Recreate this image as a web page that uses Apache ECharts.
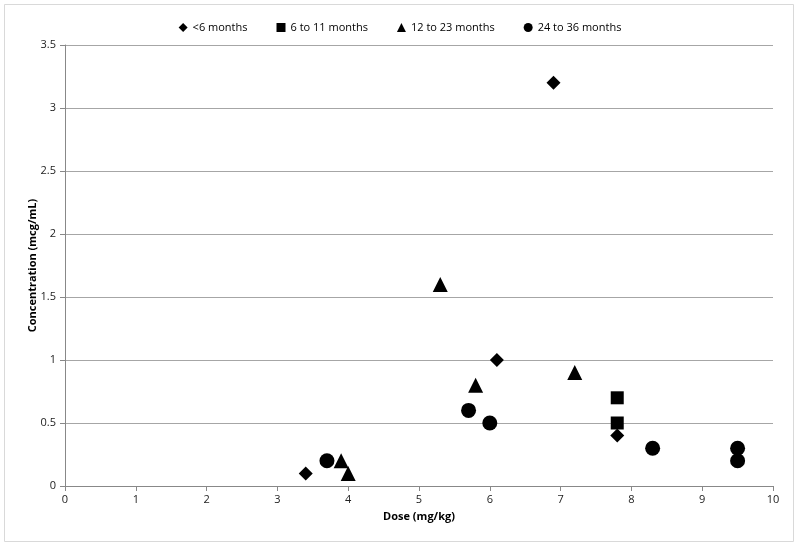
<!DOCTYPE html>
<html><head><meta charset="utf-8">
<script src="https://cdn.jsdelivr.net/npm/echarts@6/dist/echarts.min.js"></script>
<style>html,body{margin:0;padding:0;background:#fff}#c{width:800px;height:548px}</style>
</head><body><div id="c"></div>
<script>
const seriesNames = ['<6 months', '6 to 11 months', '12 to 23 months', '24 to 36 months'];
const under6 = [[3.4, 0.1], [6.1, 1.0], [6.9, 3.2], [7.8, 0.4]];
const m6to11 = [[7.8, 0.7], [7.8, 0.5]];
const m12to23 = [[3.9, 0.2], [4.0, 0.1], [5.3, 1.6], [5.8, 0.8], [7.2, 0.9]];
const m24to36 = [[3.7, 0.2], [5.7, 0.6], [6.0, 0.5], [8.3, 0.3], [9.5, 0.3], [9.5, 0.2]];
const xTicks = [0,1,2,3,4,5,6,7,8,9,10];
const yTicks = [0,0.5,1,1.5,2,2.5,3,3.5];

const font = '"Open Sans", "Liberation Sans", sans-serif';
const chart = echarts.init(document.getElementById('c'), null, {renderer: 'canvas'});
const symbols = ['diamond', 'rect', 'triangle', 'circle'];
const sizes = [14, 13, 15, 15];
const datas = [under6, m6to11, m12to23, m24to36];
chart.setOption({
  animation: false,
  backgroundColor: '#fff',
  graphic: [{type: 'rect', shape: {x: 4.5, y: 4.5, width: 789, height: 537}, style: {fill: 'none', stroke: '#d9d9d9', lineWidth: 1}}],
  legend: {
    top: 17, left: 'center',
    itemWidth: 9, itemHeight: 9, itemGap: 29,
    textStyle: {fontFamily: font, fontSize: 11, color: '#000'},
    data: seriesNames.map((n, i) => ({name: n, icon: symbols[i]}))
  },
  grid: {left: 65, right: 27, top: 45, bottom: 62},
  xAxis: {
    type: 'value', min: 0, max: 10, interval: 1,
    name: 'Dose (mg/kg)', nameLocation: 'middle', nameGap: 25, nameMoveOverlap: false,
    nameTextStyle: {fontFamily: font, fontSize: 11, fontWeight: 'bold', color: '#000'},
    axisLine: {show: true, lineStyle: {color: '#888', width: 1}},
    axisTick: {show: true, inside: false, length: 5, lineStyle: {color: '#888'}},
    axisLabel: {fontFamily: font, fontSize: 11, color: '#222', margin: 8, formatter: v => xTicks.includes(v) ? String(v) : ''},
    splitLine: {show: false}
  },
  yAxis: {
    type: 'value', min: 0, max: 3.5, interval: 0.5,
    name: 'Concentration (mcg/mL)', nameLocation: 'middle', nameGap: 27, nameMoveOverlap: false,
    nameTextStyle: {fontFamily: font, fontSize: 11, fontWeight: 'bold', color: '#000'},
    axisLine: {show: true, lineStyle: {color: '#888', width: 1}},
    axisTick: {show: true, inside: false, length: 5, lineStyle: {color: '#888'}},
    axisLabel: {fontFamily: font, fontSize: 11, color: '#222', margin: 9, formatter: v => yTicks.includes(v) ? String(v) : ''},
    splitLine: {show: true, lineStyle: {color: '#a6a6a6', width: 1}}
  },
  series: datas.map((d, i) => ({
    name: seriesNames[i], type: 'scatter', data: d,
    symbol: symbols[i], symbolSize: sizes[i],
    itemStyle: {color: '#000', opacity: 1}
  }))
});
</script></body></html>
